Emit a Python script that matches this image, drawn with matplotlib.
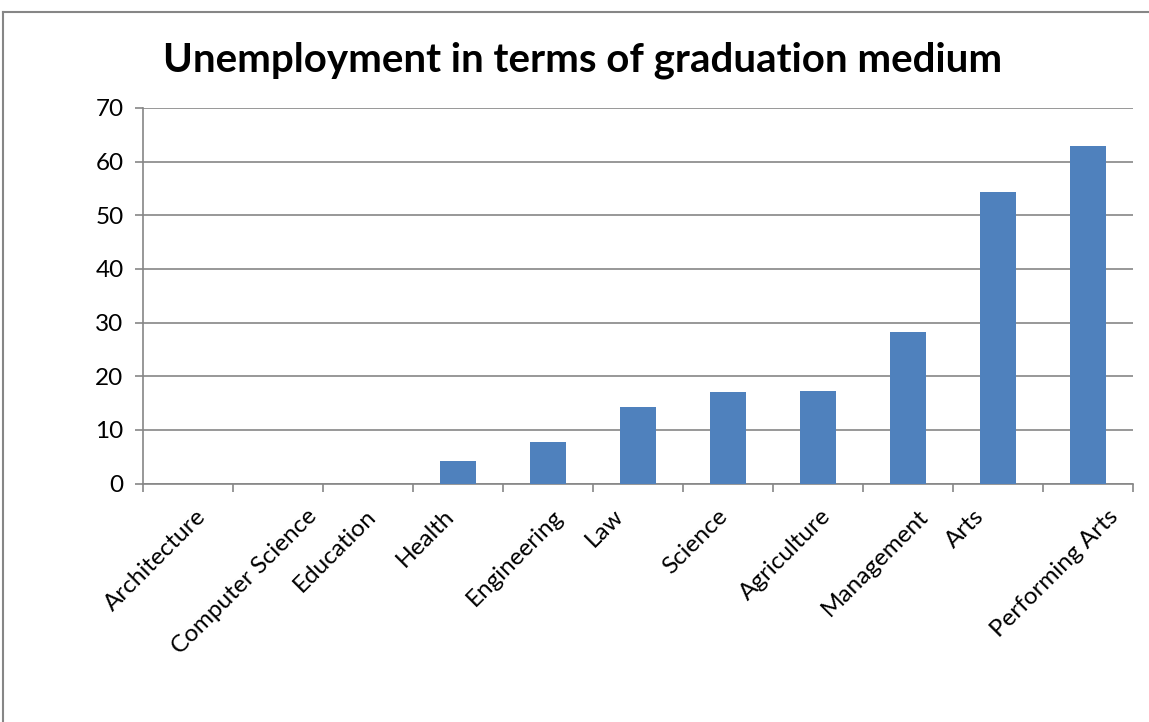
import matplotlib
matplotlib.use("Agg")
import matplotlib.pyplot as plt
from matplotlib.lines import Line2D
import matplotlib.transforms as mtransforms

categories = ["Architecture", "Computer Science", "Education", "Health", "Engineering",
              "Law", "Science", "Agriculture", "Management", "Arts", "Performing Arts"]
values = [0, 0, 0, 4.2, 7.7, 14.3, 17.0, 17.3, 28.2, 54.4, 62.9]
yticks = [0, 10, 20, 30, 40, 50, 60, 70]
title = "Unemployment in terms of graduation medium"

plt.rcParams['font.family'] = ['Lato', 'DejaVu Sans']

W, H = 1149, 722
fig = plt.figure(figsize=(W / 100, H / 100), dpi=100)
ax = fig.add_axes([143 / W, 1 - 483.5 / H, (1133 - 143) / W, (483.5 - 108) / H])

grid_c = "#868686"
x = list(range(len(categories)))
ax.bar(x, values, width=0.4, color="#4f81bd", zorder=3)
ax.set_xlim(-0.5, len(categories) - 0.5)
ax.set_ylim(0, 70)
ax.set_yticks(yticks)
ax.set_yticklabels([str(v) for v in yticks], fontsize=17.5)
ax.yaxis.grid(True, color=grid_c, linewidth=1.2, zorder=0)
for s in ["top", "right"]:
    ax.spines[s].set_visible(False)
for s in ["left", "bottom"]:
    ax.spines[s].set_color(grid_c)
    ax.spines[s].set_linewidth(1.2)
ax.tick_params(axis='y', direction='out', length=6, width=1.2, color=grid_c, pad=8)
ax.set_xticks([i - 0.5 for i in range(len(categories) + 1)])
ax.set_xticklabels([])
ax.tick_params(axis='x', direction='out', length=6, width=1.2, color=grid_c)

offset = mtransforms.ScaledTranslation(-33 / 100, -22 / 100, fig.dpi_scale_trans)
for i, c in enumerate(categories):
    ax.text(i, 0, c, rotation=45, ha='center', va='top',
            fontsize=17.5, transform=ax.get_xaxis_transform() + offset)

fig.text(583 / W, 1 - 60 / H, title, ha='center', va='center', fontsize=29, fontweight='bold')

# outer chart frame
fig.add_artist(Line2D([3 / W, 1], [1 - 12 / H, 1 - 12 / H], transform=fig.transFigure, color="#868686", linewidth=1.5))
fig.add_artist(Line2D([3 / W, 3 / W], [0, 1 - 12 / H], transform=fig.transFigure, color="#868686", linewidth=1.5))

fig.savefig("out.png", dpi=100)
